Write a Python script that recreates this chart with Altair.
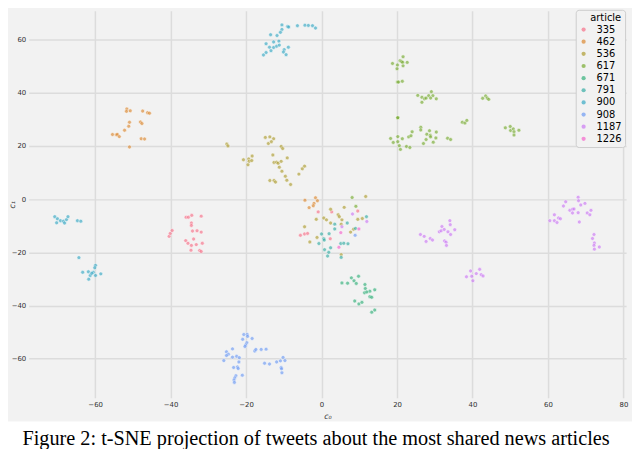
import altair as alt
import pandas as pd

articles = ["335", "462", "536", "617", "671", "791", "900", "908", "1187", "1226"]
colors = ["#f77189", "#dc8932", "#ae9d31", "#77ab31", "#33b07a",
          "#36ada4", "#38a9c5", "#6e9bf4", "#cc7af4", "#f565cc"]

x_ticks = [-60, -40, -20, 0, 20, 40, 60, 80]
y_ticks = [-60, -40, -20, 0, 20, 40, 60]

caption = ["Figure 2: t-SNE projection of tweets about the most shared news articles"]

x_335 = [-40.4, -40.1, -39.6, -35.9, -35.3, -34.4, -31.9, -34.5, -34.5, -34.2, -33.0, -31.9, -33.9, -36.0,
         -35.4, -34.5, -33.2, -31.6, -34.6, -32.3, -31.9, -0.9, 2.7, 9.6, -5.6, -4.5, -3.7, 2.3]
y_335 = [-14.0, -12.9, -11.8, -6.8, -6.8, -6.1, -6.4, -9.0, -9.9, -12.0, -11.9, -12.4, -15.0, -15.6,
         -16.6, -17.4, -17.1, -16.6, -19.2, -19.3, -19.7, -4.8, -4.8, -4.5, -13.6, -13.1, -12.9, -14.9]

x_462 = [-51.6, -51.7, -50.7, -47.4, -46.1, -45.6, -50.9, -51.1, -52.2, -48.0, -47.6, -55.4, -54.4, -54.1,
         -53.6, -47.8, -46.9, -50.9, -4.4, -1.6, -1.1, -2.0, -2.2, -3.3]
y_462 = [33.9, 33.0, 33.2, 33.1, 32.5, 32.3, 28.9, 27.4, 25.9, 29.0, 28.4, 24.3, 24.2, 24.3,
         23.5, 22.7, 22.6, 19.6, -0.4, 0.5, -0.6, -1.6, -2.5, -3.2]

x_536 = [-25.1, -24.8, -14.9, -13.7, -12.7, -14.1, -13.3, -10.7, -10.3, -20.7, -19.3, -19.2, -18.4, -18.5,
         -19.5, -12.9, -12.6, -11.9, -11.5, -10.7, -9.1, -11.2, -10.5, -9.6, -9.2, -8.2, -13.7, -12.6,
         -12.2, -6.0, -5.1, -4.5,
         11.7, 2.4, 6.0, 4.4, 4.7, 0.6, 1.3, -1.4, 2.4, 5.4, 5.2, 10.8, 9.6, -4.5, 8.5, 7.7, -1.2, -3.1, 5.2]
y_536 = [20.7, 20.0, 23.2, 23.4, 22.7, 20.9, 21.6, 19.8, 19.0, 14.8, 15.1, 14.2, 16.2, 14.5,
         12.9, 16.6, 13.8, 13.9, 13.5, 14.2, 15.5, 12.0, 10.5, 8.6, 7.1, 5.5, 7.0, 7.0,
         6.4, 9.4, 11.4, 12.4,
         1.0, -3.8, -3.1, -5.9, -6.6, -7.1, -7.8, -7.6, -9.0, -7.8, -9.4, -7.3, -7.6, -10.4, -11.3, -12.4,
         -14.4, -16.1, -20.9]

x_617 = [21.6, 20.8, 21.2, 21.5, 22.7, 18.8, 20.1, 21.6, 20.0, 20.1, 20.4, 21.4,
         25.5, 26.6, 27.3, 27.7, 28.4, 29.1, 29.5, 28.9, 30.4, 26.6,
         42.7, 43.5, 43.9, 44.3, 20.2, 20.2, 37.3, 38.0, 38.5,
         26.3, 26.3, 28.6, 30.4, 24.0, 23.1, 23.7, 27.9, 28.8, 28.9, 30.3, 27.7, 27.0, 29.6, 33.4, 34.2,
         18.3, 19.0, 20.2, 20.2, 21.4, 20.6, 20.9, 22.5, 23.4,
         48.7, 50.0, 50.1, 50.8, 51.0, 52.3, 51.0, 8.1, 9.1]
y_617 = [53.5, 52.0, 51.7, 51.4, 51.4, 51.0, 50.4, 50.1, 49.0, 44.0, 44.0, 44.3,
         39.0, 38.3, 37.7, 38.0, 38.9, 40.4, 38.9, 38.0, 37.7, 36.4,
         37.9, 38.8, 38.0, 37.5, 30.6, 30.6, 28.9, 28.6, 29.6,
         27.0, 26.0, 25.7, 25.2, 25.3, 23.4, 23.8, 24.4, 24.0, 23.4, 23.0, 22.4, 20.9, 21.4, 22.9, 22.4,
         22.8, 21.3, 23.5, 21.6, 22.7, 20.1, 18.7, 19.8, 19.4,
         26.8, 27.3, 25.8, 26.4, 25.3, 25.9, 24.1, 0.6, -2.7]

x_671 = [5.4, 6.9, 7.9, 8.6, 9.2, 9.8, 11.5, 11.6, 12.8, 14.1, 11.4, 12.0, 12.8, 13.3, 8.8, 9.9, 10.7, 13.3, 14.1]
y_671 = [-31.5, -31.6, -29.6, -30.7, -31.7, -29.0, -32.1, -33.6, -34.6, -34.1, -35.2, -34.9, -36.7, -36.9,
         -38.3, -39.4, -38.8, -42.5, -41.7]

x_791 = [3.5, 6.8, 11.9, 3.5, 9.0, 2.0, 0.0, 0.6, 0.7, -0.7, 5.1, 5.9, 7.0, 2.4, 0.8, 1.9, 5.2, 1.6]
y_791 = [-9.4, -9.0, -6.6, -11.2, -11.0, -13.0, -13.1, -14.9, -15.4, -16.7, -16.7, -16.6, -16.8, -18.3,
         -19.0, -20.0, -21.9, -21.4]

x_900 = [-10.5, -9.0, -8.7, -6.4, -4.4, -3.5, -2.4, -1.6, -10.5, -10.9, -11.8, -13.5, -12.7, -11.3,
         -14.7, -13.8, -12.7, -11.9, -11.2, -8.8, -9.9, -10.1, -9.4, -14.7, -15.4, -13.4,
         -70.7, -70.0, -69.2, -68.4, -70.2, -68.1, -67.6, -67.2, -64.7, -63.8, -64.3,
         -59.9, -60.1, -63.3, -61.8, -60.5, -61.3, -61.7, -59.9, -58.5, -60.9]
y_900 = [65.5, 64.9, 64.7, 65.2, 65.4, 65.3, 65.2, 64.3, 63.8, 62.7, 61.5, 61.8, 59.1, 59.4,
         58.4, 57.1, 57.0, 57.5, 57.9, 57.1, 56.2, 55.3, 54.3, 55.1, 54.2, 55.8,
         -6.6, -7.4, -8.1, -8.3, -8.9, -9.0, -7.7, -6.6, -8.1, -8.3, -22.0,
         -24.9, -25.8, -27.5, -27.3, -27.5, -28.7, -30.1, -28.7, -28.1, -27.9]

x_908 = [-20.6, -19.7, -19.6, -20.9, -18.4, -19.8, -20.1, -20.3, -23.6, -25.2, -24.7, -25.2, -25.9, -23.6,
         -22.5, -21.8, -21.9, -17.7, -17.4, -16.0, -14.7, -15.1, -13.8, -11.9, -10.9, -10.2, -9.7, -10.7,
         -10.6, -10.5, -23.3, -22.3, -22.1, -21.0, -22.7, -23.0, -23.2, -23.1, 8.9]
y_908 = [-50.9, -50.9, -51.6, -52.7, -52.4, -54.0, -54.8, -55.4, -56.3, -57.4, -58.3, -58.8, -60.7, -59.4,
         -59.1, -59.6, -61.2, -57.1, -56.5, -56.5, -56.4, -61.7, -62.0, -61.2, -60.8, -59.5, -60.7, -63.3,
         -63.8, -65.3, -63.3, -63.1, -63.7, -66.2, -66.4, -67.2, -68.0, -68.9, -13.6]

x_1187 = [26.2, 27.2, 27.7, 28.8, 29.4, 31.2, 31.7, 31.9, 32.5, 33.5, 34.0, 34.1, 35.3, 34.2, 32.6, 33.0, 33.1,
          38.4, 39.5, 39.8, 40.1, 41.0, 41.9, 42.3, 42.8,
          68.0, 68.1, 69.8, 68.7, 64.7, 64.1, 65.8, 66.5, 66.9, 66.5, 68.0, 70.4, 71.1, 71.4, 68.3,
          61.7, 62.8, 63.3, 60.5, 61.7, 62.4,
          72.2, 71.8, 72.3, 72.2, 72.3, 73.6, 8.2, 12.0, 5.4]
y_1187 = [-13.3, -14.0, -15.9, -14.8, -15.4, -12.3, -11.9, -10.3, -11.4, -12.3, -8.1, -9.6, -11.5, -13.3,
          -15.7, -16.2, -17.4,
          -29.2, -27.0, -29.0, -30.7, -28.0, -26.4, -28.4, -28.9,
          0.7, -0.6, -1.6, -2.2, -1.0, -2.6, -4.2, -3.8, -3.7, -5.2, -5.1, -5.2, -5.9, -4.2, -8.6,
          -5.9, -7.1, -7.4, -8.1, -8.1, -8.8,
          -13.3, -14.8, -16.5, -17.4, -18.8, -18.0, -5.6, -8.4, -10.4]

x_1226 = [9.9, 5.1, 4.6]
y_1226 = [-11.2, -12.6, -18.1]

series = {
    "335": (x_335, y_335), "462": (x_462, y_462), "536": (x_536, y_536), "617": (x_617, y_617),
    "671": (x_671, y_671), "791": (x_791, y_791), "900": (x_900, y_900), "908": (x_908, y_908),
    "1187": (x_1187, y_1187), "1226": (x_1226, y_1226),
}

rows = []
for art in articles:
    xs, ys = series[art]
    for xv, yv in zip(xs, ys):
        rows.append({"c0": xv, "c1": yv, "article": art})
df = pd.DataFrame(rows)

W, H = 605, 392

points = alt.Chart(df).mark_circle(
    size=16, opacity=0.65, stroke="white", strokeWidth=0.6
).encode(
    x=alt.X("c0:Q", scale=alt.Scale(domain=[-77.6, 80.7], nice=False, zero=False),
            axis=alt.Axis(values=x_ticks, title="c₀", titlePadding=5)),
    y=alt.Y("c1:Q", scale=alt.Scale(domain=[-74.7, 70.8], nice=False, zero=False),
            axis=alt.Axis(values=y_ticks, title="c₁", titleX=-12)),
    color=alt.Color("article:N", sort=articles,
                    scale=alt.Scale(domain=articles, range=colors),
                    legend=alt.Legend(title="article", orient="none", legendX=554, legendY=-1)),
)

caption_bg = alt.Chart(pd.DataFrame({"a": [0]})).mark_rect(color="white").encode(
    x=alt.value(-30), x2=alt.value(650), y=alt.value(416), y2=alt.value(470)
)

caption_text = alt.Chart(pd.DataFrame({"caption": caption})).mark_text(
    font="Liberation Serif", fontSize=20.5, color="black", align="center", baseline="alphabetic"
).encode(
    text="caption:N", x=alt.value(291), y=alt.value(440)
)

chart = alt.layer(points, caption_bg, caption_text).properties(
    width=W, height=H,
    autosize=alt.AutoSizeParams(type="none"),
    padding={"left": 21, "top": 0, "right": 6, "bottom": 49},
    background="#f2f2f2",
).configure_view(
    stroke="transparent"
).configure_axis(
    domain=False, ticks=False, gridColor="#dcdcdc", gridWidth=1.5,
    labelFont="DejaVu Sans", labelFontSize=7, labelColor="#333333", labelPadding=3,
    titleFont="DejaVu Sans", titleFontSize=8, titleFontWeight="normal", titleFontStyle="italic",
    titleColor="#333333", titlePadding=3,
).configure_legend(
    fillColor="#f2f2f2", strokeColor="#cccccc", cornerRadius=3, padding=3,
    titleFont="DejaVu Sans", titleFontSize=10, titleFontWeight="normal", titleColor="black",
    titlePadding=2, titleAnchor="end",
    labelFont="DejaVu Sans", labelFontSize=10, labelColor="black", labelOffset=8,
    symbolType="circle", symbolSize=18, symbolOpacity=0.7, symbolStrokeWidth=0, rowPadding=2.3,
)

chart.save("out.html", embed_options={"renderer": "svg", "actions": False})
